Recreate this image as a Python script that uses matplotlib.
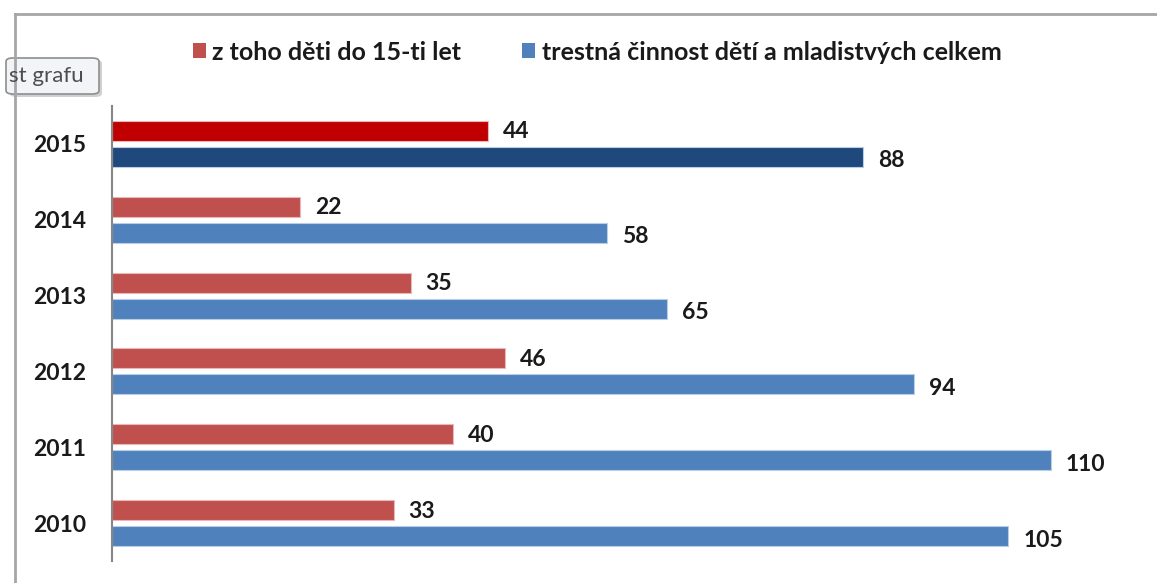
import matplotlib.pyplot as plt
from matplotlib.patches import FancyBboxPatch, Patch
from matplotlib.lines import Line2D

plt.rcParams['font.family'] = ['Lato', 'DejaVu Sans']

# Data
years = ['2010', '2011', '2012', '2013', '2014', '2015']
children = [33, 40, 46, 35, 22, 44]        # z toho děti do 15-ti let
total = [105, 110, 94, 65, 58, 88]         # trestná činnost dětí a mladistvých celkem
legend_labels = ['z toho děti do 15-ti let', 'trestná činnost dětí a mladistvých celkem']

red, blue = '#C0504D', '#4F81BD'
red_hi, blue_hi = '#C00000', '#1F497D'

W, H = 1157, 583
fig = plt.figure(figsize=(W / 100, H / 100), dpi=100)

# axes placed in pixel terms
ax_left, ax_right, ax_top, ax_bot = 112, 1150, 106, 561
ax = fig.add_axes([ax_left / W, 1 - ax_bot / H, (ax_right - ax_left) / W, (ax_bot - ax_top) / H])
px_per_unit = 8.535
ax.set_xlim(0, (ax_right - ax_left) / px_per_unit)
ax.set_ylim(-0.5, len(years) - 0.5)

pos = list(range(len(years)))
bh = 0.264
off = 0.171
for i, (c, t) in enumerate(zip(children, total)):
    last = i == len(years) - 1
    cr = red_hi if last else red
    cb = blue_hi if last else blue
    ax.barh(pos[i] + off, c, height=bh, color=cr, edgecolor='#E6B9B8', linewidth=0.8)
    ax.barh(pos[i] - off, t, height=bh, color=cb, edgecolor='#B9CDE5', linewidth=0.8)
    ax.annotate(str(c), (c, pos[i] + off), xytext=(15, -1), textcoords='offset pixels',
                va='center', ha='left', fontsize=16.5, fontweight='bold', color='#1a1a1a')
    ax.annotate(str(t), (t, pos[i] - off), xytext=(15, -4), textcoords='offset pixels',
                va='center', ha='left', fontsize=16.5, fontweight='bold', color='#1a1a1a')

ax.set_yticks(pos)
ax.set_yticklabels(years, fontsize=16.5, fontweight='bold', color='#1a1a1a')
ax.tick_params(axis='y', length=0, pad=18.5)
ax.set_xticks([])
for s in ['top', 'right', 'bottom']:
    ax.spines[s].set_visible(False)
ax.spines['left'].set_color('#868686')
ax.spines['left'].set_linewidth(1.5)

# legend
handles = [Patch(facecolor=red, edgecolor='none'), Patch(facecolor=blue, edgecolor='none')]
leg = fig.legend(handles, legend_labels, loc='center', bbox_to_anchor=(597 / W, 1 - 52 / H),
                 ncol=2, frameon=False, handlelength=0.52, handleheight=0.52,
                 handletextpad=0.25, columnspacing=2.45,
                 prop={'size': 18, 'weight': 'bold'})
for txt in leg.get_texts():
    txt.set_color('#1a1a1a')

# chart area frame (partially visible)
fig.add_artist(Line2D([15 / W, 15 / W], [0, 1 - 14 / H], color='#A6A6A6', lw=2))
fig.add_artist(Line2D([15 / W, 1], [1 - 14 / H, 1 - 14 / H], color='#A6A6A6', lw=2))

# tooltip
shadow = FancyBboxPatch((10 / W, 1 - 97 / H), 92 / W, 37 / H, boxstyle='round,pad=0,rounding_size=0.006',
                        transform=fig.transFigure, facecolor='#D0D0D0', edgecolor='none')
fig.add_artist(shadow)
tip = FancyBboxPatch((6 / W, 1 - 94 / H), 93 / W, 36 / H, boxstyle='round,pad=0,rounding_size=0.006',
                     transform=fig.transFigure, facecolor='#F2F4F8', edgecolor='#8E8E8E', lw=1.2)
fig.add_artist(tip)
fig.text(9 / W, 1 - 76 / H, 'st grafu', fontsize=16, color='#4D4D4D', va='center', ha='left')

fig.savefig('out.png', dpi=100)
